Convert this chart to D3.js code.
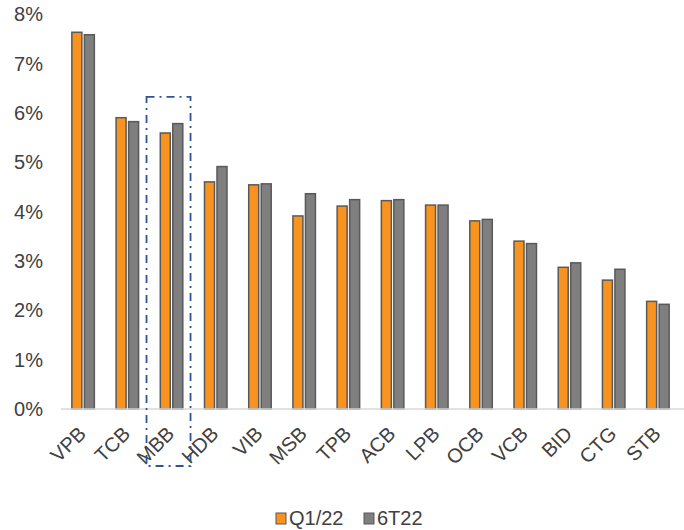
<!DOCTYPE html>
<html>
<head>
<meta charset="utf-8">
<script src="https://cdn.jsdelivr.net/npm/d3@7"></script>
<style>
    body { margin: 0; background: #fff; }
    text { font-family: 'Liberation Sans', Arial, sans-serif; }
</style>
</head>
<body>
<svg id="chart"></svg>
<script>
const banks = ['VPB', 'TCB', 'MBB', 'HDB', 'VIB', 'MSB', 'TPB', 'ACB', 'LPB', 'OCB', 'VCB', 'BID', 'CTG', 'STB']
const q122 = [7.63, 5.90, 5.59, 4.60, 4.54, 3.91, 4.11, 4.22, 4.13, 3.81, 3.40, 2.87, 2.61, 2.18]
const t622 = [7.58, 5.82, 5.78, 4.91, 4.56, 4.36, 4.24, 4.24, 4.13, 3.84, 3.35, 2.96, 2.83, 2.12]
const seriesNames = ['Q1/22', '6T22']
const yTicks = [0, 1, 2, 3, 4, 5, 6, 7, 8]
const highlight = 'MBB'

const width = 684
const height = 530
const colors = ['#F7931E', '#7F7F7F']

const svg = d3.select('#chart').attr('width', width).attr('height', height)

const x = d3.scaleBand().domain(banks).range([61, 680])
const y = d3.scaleLinear().domain([0, 8]).range([409, 14])

const barW = 10
const gap = 2.5

// y tick labels
svg.append('g').selectAll('text').data(yTicks).enter().append('text')
    .attr('x', 43)
    .attr('y', (d) => y(d))
    .attr('dy', '0.36em')
    .attr('text-anchor', 'end')
    .attr('font-size', 20)
    .attr('fill', '#404040')
    .text((d) => d + '%')

// bars
const series = [q122, t622]
series.forEach((vals, s) => {
    svg.append('g').selectAll('rect').data(banks).enter().append('rect')
        .attr('x', (d) => x(d) + x.bandwidth() / 2 + (s === 0 ? -barW - gap / 2 : gap / 2))
        .attr('y', (d, i) => y(vals[i]))
        .attr('width', barW)
        .attr('height', (d, i) => y(0) - y(vals[i]))
        .attr('fill', colors[s])
        .attr('stroke', '#595959')
        .attr('stroke-width', 1.5)
})

// baseline
svg.append('line')
    .attr('x1', 61).attr('x2', width)
    .attr('y1', y(0)).attr('y2', y(0))
    .attr('stroke', '#D9D9D9')
    .attr('stroke-width', 1.5)

// x labels
svg.append('g').selectAll('text').data(banks).enter().append('text')
    .attr('transform', (d) => `translate(${x(d) + x.bandwidth() / 2 + 4}, ${y(0) + 26}) rotate(-45)`)
    .attr('text-anchor', 'end')
    .attr('font-size', 20)
    .attr('fill', '#404040')
    .text((d) => d)

// highlight box round MBB
const hx = x(highlight) + x.bandwidth() / 2
svg.append('rect')
    .attr('x', hx - 25)
    .attr('y', y(6.32))
    .attr('width', 44)
    .attr('height', y(0) + 57 - y(6.32))
    .attr('fill', 'none')
    .attr('stroke', '#2F5597')
    .attr('stroke-width', 1.8)
    .attr('stroke-dasharray', '8,5,2,5')

// legend
const legend = svg.append('g')
const legendX = [276, 364]
seriesNames.forEach((name, i) => {
    legend.append('rect')
        .attr('x', legendX[i]).attr('y', 513)
        .attr('width', 10).attr('height', 11)
        .attr('fill', colors[i])
        .attr('stroke', '#595959')
        .attr('stroke-width', 1)
    legend.append('text')
        .attr('x', legendX[i] + 13).attr('y', 525)
        .attr('font-size', 20)
        .attr('fill', '#404040')
        .text(name)
})
</script>
</body>
</html>
